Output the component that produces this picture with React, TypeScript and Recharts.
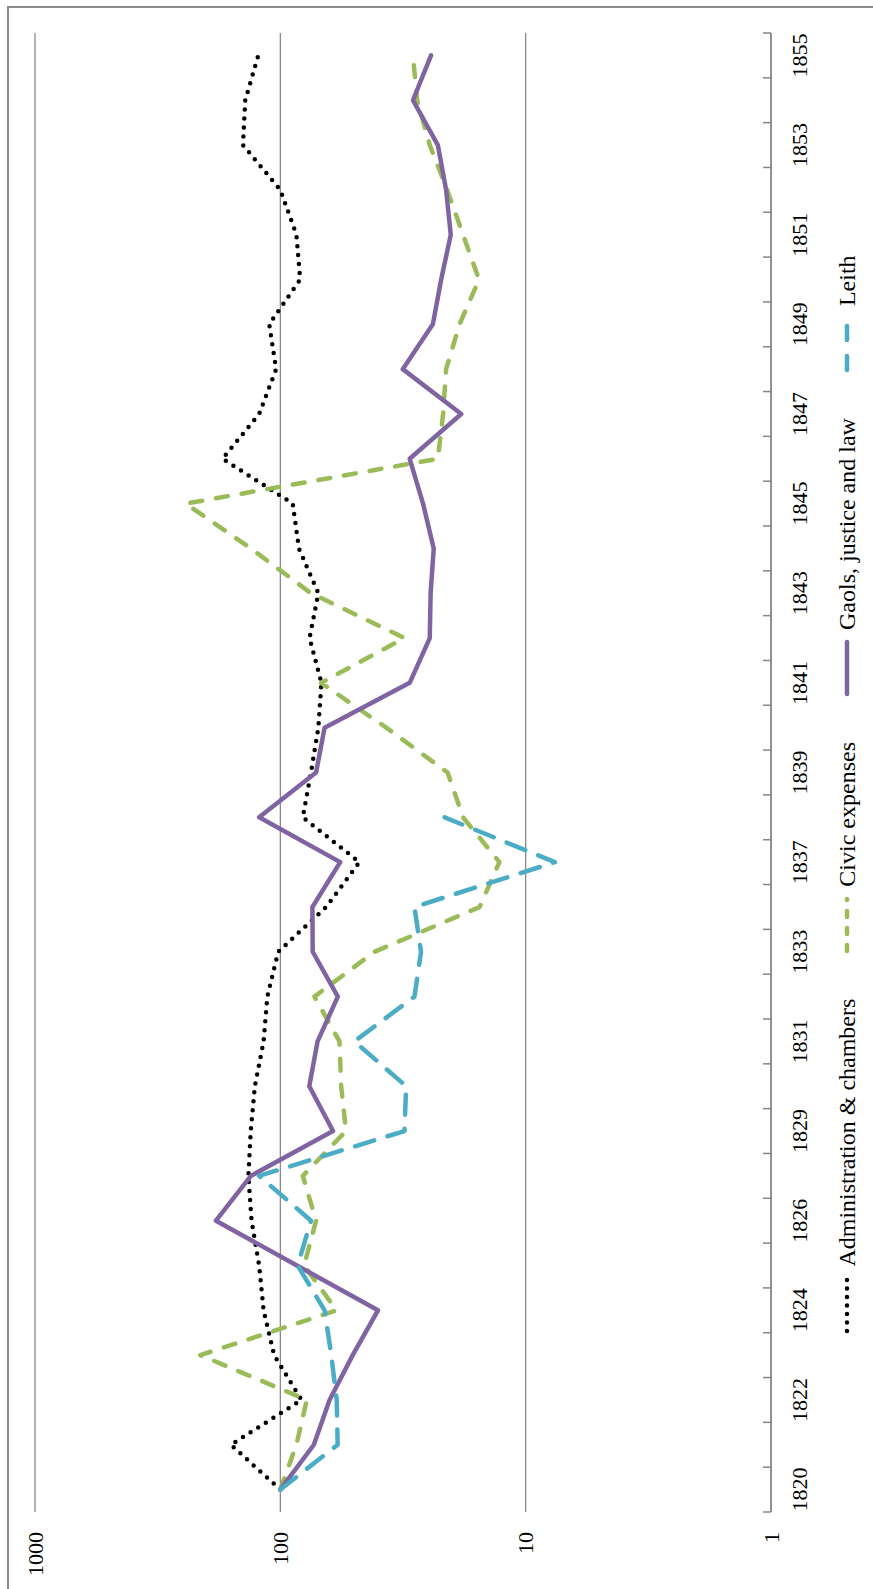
import React from 'react';
import { LineChart, Line, XAxis, YAxis, CartesianGrid } from 'recharts';

// Index numbers, 1820 = 100, log scale
const years = [
  '1820', '1821', '1822', '1823', '1824', '1825', '1826', '1828', '1829', '1830', '1831',
  '1832', '1833', '1835', '1837', '1838', '1839', '1840', '1841', '1842', '1843', '1844',
  '1845', '1846', '1847', '1848', '1849', '1850', '1851', '1852', '1853', '1854', '1855',
];

const admin = [
  100, 159, 82, 106, 117, 122, 131, 135, 132, 127, 117, 113, 102, 65, 47.6, 81, 75, 70, 68,
  76, 70, 84, 89, 172, 122, 104, 111, 83, 86, 100, 142, 139, 123,
];

const civic = [
  100, 86, 78, 212, 59, 80, 71.5, 81, 54, 56.5, 57.4, 72.6, 41.3, 15.4, 12.8, 18, 20.8, 37,
  68.2, 31.2, 75, 132, 243, 22.8, 21.7, 21.1, 18.6, 15.5, 18, 20.9, 24.6, 27.7, 28.8,
];

const gaols = [
  100, 73, 63, 50.7, 40, 85.6, 183, 131.8, 61, 76.2, 70.5, 58.3, 73.8, 74, 57, 122, 71.5, 66,
  29.7, 24.6, 24.4, 23.7, 26.2, 29.7, 18.3, 31.7, 23.9, 22.1, 20.2, 21.1, 22.8, 28.8, 24.3,
];

const leith = [
  100, 58.4, 58.9, 62, 66, 85, 75, 122, 31.2, 30.7, 49.9, 28.4, 26.7, 28.4, 7.6, 21.4,
];

const valueTicks = [1, 10, 100, 1000];

const data = years.map((year, i) => ({
  idx: i,
  year,
  admin: admin[i],
  civic: civic[i],
  gaols: gaols[i],
  leith: i < leith.length ? leith[i] : null,
}));

// boundary ticks sit between categories, labels on the categories themselves
const xTicks = years.flatMap((_, i) => [i - 0.5, i]).concat(years.length - 0.5);

const W = 1589;
const H = 873;
const FONT = '"Times New Roman", "Liberation Serif", serif';
const AXIS = '#868686';

const series = [
  { key: 'admin', name: 'Administration & chambers', color: '#000000', dash: '0 9', keyDash: '0 8.5' },
  { key: 'civic', name: 'Civic expenses', color: '#9BBB59', dash: '12 14', keyDash: '6 11' },
  { key: 'gaols', name: 'Gaols, justice and law', color: '#8064A2', dash: undefined, keyDash: undefined },
  { key: 'leith', name: 'Leith', color: '#4BACC6', dash: '20 14', keyDash: '14 16' },
];

const YearTick = (props: any) => {
  const { x, y, payload } = props;
  const v = payload.value;
  if (!Number.isInteger(v)) {
    return <line x1={x} x2={x} y1={y} y2={y - 8} stroke={AXIS} strokeWidth={1.5} />;
  }
  if (v % 2 !== 0) return <g />;
  return (
    <text x={x} y={y + 36} textAnchor="middle" fill="#000" fontSize={22} fontFamily={FONT}>
      {years[v]}
    </text>
  );
};

const LegendRow = () => (
  <div
    style={{
      position: 'absolute',
      left: 0,
      top: 835,
      width: W,
      height: 24,
      display: 'flex',
      justifyContent: 'center',
      alignItems: 'center',
      fontFamily: FONT,
      fontSize: 24,
      lineHeight: '24px',
      gap: 45,
    }}
  >
    {series.map((s) => (
      <div key={s.key} style={{ display: 'flex', alignItems: 'center', gap: 9 }}>
        <svg width={58} height={10}>
          <line
            x1={3}
            x2={55}
            y1={5}
            y2={5}
            stroke={s.color}
            strokeWidth={4.5}
            strokeLinecap="round"
            strokeDasharray={s.keyDash}
          />
        </svg>
        <span>{s.name}</span>
      </div>
    ))}
  </div>
);

export default function App() {
  return (
    <div style={{ position: 'absolute', left: 0, top: 0, width: 873, height: 1589, overflow: 'hidden', background: '#fff' }}>
      <div
        style={{
          position: 'absolute',
          left: 0,
          top: 0,
          width: W,
          height: H,
          transformOrigin: '0 0',
          transform: `translate(0px, ${W}px) rotate(-90deg)`,
        }}
      >
        <div
          style={{
            position: 'absolute',
            left: -10,
            top: 7,
            width: 1593,
            height: 900,
            boxSizing: 'border-box',
            borderTop: '2px solid #8c8c8c',
            borderRight: '2px solid #8c8c8c',
          }}
        />
        <div style={{ position: 'absolute', left: 0, top: 0 }}>
          <LineChart width={W} height={H} data={data} margin={{ top: 35, right: 33, bottom: 62, left: 0 }}>
            <CartesianGrid vertical={false} stroke={AXIS} strokeWidth={1.25} />
            <XAxis
              dataKey="idx"
              type="number"
              domain={[-0.5, years.length - 0.5]}
              ticks={xTicks}
              interval={0}
              tick={<YearTick />}
              tickLine={false}
              tickSize={0}
              tickMargin={0}
              height={40}
              axisLine={{ stroke: AXIS, strokeWidth: 1.5 }}
            />
            <YAxis
              type="number"
              scale="log"
              domain={[1, 1000]}
              ticks={valueTicks}
              allowDataOverflow
              width={77}
              axisLine={false}
              tickLine={false}
              tickSize={0}
              tickMargin={20}
              tick={{ fill: '#000', fontSize: 22, fontFamily: FONT }}
            />
            {series.map((s) => (
              <Line
                key={s.key}
                type="linear"
                dataKey={s.key}
                name={s.name}
                stroke={s.color}
                strokeWidth={4.5}
                strokeDasharray={s.dash}
                strokeLinecap="round"
                strokeLinejoin="round"
                dot={false}
                activeDot={false}
                connectNulls={false}
                isAnimationActive={false}
              />
            ))}
          </LineChart>
        </div>
        <LegendRow />
      </div>
    </div>
  );
}
